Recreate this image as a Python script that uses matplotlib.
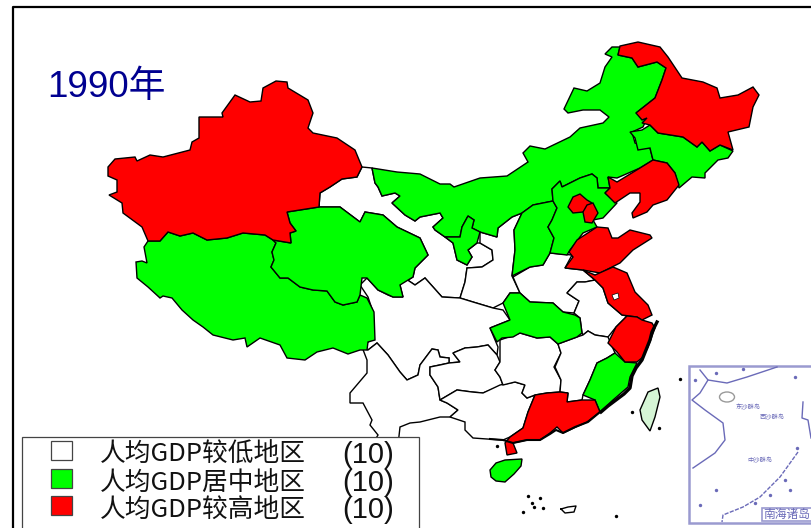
import matplotlib
matplotlib.use('Agg')
import matplotlib.pyplot as plt
from matplotlib.patches import Polygon, Rectangle, Ellipse

plt.rcParams['font.family'] = ['Liberation Sans', 'Noto Sans CJK SC']

# province outlines in pixel units
xinjiang = [(108,167),(115,159),(135,157),(137,161),(150,155),(163,157),(190,150),(192,142),(199,138),(199,117),(223,117),(222,113),(235,95),(250,102),(261,101),(263,88),(276,81),(287,82),(288,88),(308,100),(313,113),(308,128),(313,133),(337,138),(355,150),(362,167),(357,177),(342,179),(330,187),(320,193),(319,207),(287,212),(290,223),(296,231),(290,233),(291,243),(273,240),(265,235),(243,233),(227,238),(207,240),(193,233),(180,236),(168,232),(160,241),(148,241),(142,227),(123,213),(122,203),(109,195),(117,192),(117,180),(108,176)]
tibet = [(148,241),(160,241),(168,232),(180,236),(193,233),(207,240),(227,238),(243,233),(265,235),(273,240),(276,243),(272,252),(274,260),(271,267),(280,278),(288,278),(300,287),(313,290),(327,291),(335,302),(343,305),(357,302),(360,295),(367,298),(374,312),(375,340),(368,342),(367,350),(360,350),(348,354),(333,348),(317,352),(305,360),(287,358),(280,345),(260,338),(247,347),(245,338),(233,340),(213,335),(203,327),(193,320),(182,310),(172,298),(163,296),(160,298),(148,287),(137,278),(136,262),(142,261),(147,263),(144,247)]
qinghai = [(287,212),(319,207),(340,207),(360,222),(365,212),(383,215),(397,227),(420,238),(428,255),(415,268),(413,277),(400,285),(403,297),(393,297),(378,290),(367,278),(362,278),(360,295),(357,302),(343,305),(335,302),(327,291),(313,290),(300,287),(288,278),(280,278),(271,267),(274,260),(272,252),(276,243),(273,240),(291,243),(290,233),(296,231),(290,223)]
gansu = [(362,167),(372,168),(375,183),(378,187),(382,196),(395,193),(400,196),(392,203),(405,215),(415,221),(420,217),(440,213),(443,218),(433,227),(435,230),(445,237),(453,243),(457,260),(467,265),(472,257),(468,250),(477,243),(480,243),(492,250),(493,260),(482,267),(467,268),(465,282),(460,298),(442,297),(425,278),(415,285),(403,277),(395,283),(400,285),(413,277),(415,268),(428,255),(420,238),(397,227),(383,215),(365,212),(360,222),(340,207),(319,207),(320,193),(330,187),(342,179),(357,177)]
inner_mongolia = [(372,168),(397,172),(420,174),(440,184),(450,184),(454,187),(480,178),(507,176),(528,162),(523,153),(530,146),(545,149),(570,137),(580,128),(603,123),(609,117),(600,110),(583,110),(568,113),(564,109),(574,88),(587,91),(600,83),(605,67),(612,57),(605,54),(612,47),(620,47),(618,55),(632,58),(638,67),(657,62),(666,68),(662,80),(655,98),(636,113),(647,118),(643,127),(632,132),(635,143),(650,148),(653,160),(640,168),(617,178),(608,177),(610,188),(598,188),(597,178),(592,174),(580,178),(562,187),(560,181),(552,189),(553,201),(533,205),(522,213),(512,217),(498,228),(497,237),(480,232),(472,228),(474,220),(468,216),(462,227),(460,237),(445,237),(435,230),(433,227),(443,218),(440,213),(420,217),(415,221),(405,215),(392,203),(400,196),(395,193),(382,196),(378,187),(375,183)]
ningxia = [(445,237),(460,237),(462,227),(468,216),(474,220),(472,228),(480,232),(477,243),(468,250),(472,257),(467,265),(457,260),(453,243)]
shanxi = [(533,205),(553,201),(557,208),(552,220),(548,227),(554,238),(550,253),(543,265),(530,267),(512,276),(515,250),(514,230),(522,213)]
hebei = [(553,201),(552,189),(560,181),(562,187),(580,178),(592,174),(597,178),(598,188),(610,188),(605,193),(617,203),(603,218),(593,220),(597,227),(583,233),(570,250),(567,255),(550,253),(554,238),(548,227),(552,220),(557,208)]
beijing = [(568,207),(573,197),(580,194),(587,200),(592,203),(583,212),(573,213)]
tianjin = [(587,205),(593,203),(598,213),(592,223),(585,222),(583,212)]
shandong = [(569,252),(577,240),(597,227),(608,228),(612,238),(618,238),(630,230),(650,235),(652,238),(633,250),(620,263),(610,268),(600,273),(583,270),(565,268),(573,257)]
liaoning = [(653,160),(667,163),(675,173),(679,185),(667,200),(653,205),(647,212),(633,218),(632,213),(640,202),(640,193),(630,193),(615,203),(605,193),(610,188),(608,177),(617,182),(640,168)]
jilin = [(630,132),(642,130),(650,125),(658,133),(683,137),(697,147),(702,142),(710,151),(720,145),(733,151),(728,158),(718,160),(705,173),(705,178),(692,177),(679,188),(675,173),(667,163),(653,160),(650,148),(638,150),(635,138)]
heilongjiang = [(620,46),(638,42),(660,47),(668,57),(682,78),(703,82),(717,88),(720,98),(738,95),(753,87),(759,95),(753,107),(749,127),(728,132),(733,150),(720,145),(710,151),(702,142),(697,147),(683,137),(658,133),(650,125),(642,123),(647,118),(642,120),(636,113),(655,98),(662,80),(666,68),(657,62),(638,67),(632,58),(618,55)]
jiangsu = [(583,270),(595,275),(613,267),(627,273),(635,292),(648,305),(652,315),(642,320),(637,317),(622,315),(608,303),(603,288),(595,280)]
zhejiang = [(627,316),(637,317),(642,320),(652,323),(655,328),(648,347),(643,357),(637,362),(625,362),(617,352),(608,343),(616,327)]
fujian = [(615,353),(625,362),(637,363),(630,377),(628,387),(613,400),(600,412),(595,400),(583,395),(590,380),(597,363),(607,358)]
jiangxi = [(558,344),(577,337),(583,335),(588,331),(595,335),(608,337),(615,353),(607,358),(597,363),(590,380),(583,395),(582,400),(567,402),(568,393),(560,392),(561,380),(555,367),(561,353)]
hubei = [(503,303),(510,293),(520,293),(530,302),(553,303),(563,312),(575,315),(580,318),(582,333),(577,337),(558,344),(550,337),(537,338),(520,333),(513,337),(502,338),(497,342),(490,328),(510,320)]
hunan = [(500,340),(520,333),(537,338),(550,337),(558,344),(561,353),(554,367),(561,380),(560,392),(547,393),(535,395),(527,398),(522,393),(525,385),(515,382),(503,385),(500,377),(495,370),(500,362)]
guangdong = [(535,395),(547,393),(560,392),(568,393),(567,402),(582,400),(595,400),(600,412),(587,422),(563,433),(557,427),(550,433),(540,440),(527,440),(513,443),(517,453),(507,455),(505,443),(510,437),(523,428),(528,412)]
guangxi = [(440,400),(457,390),(472,392),(483,393),(500,385),(515,382),(525,385),(522,393),(527,398),(535,395),(528,412),(523,428),(510,437),(503,440),(487,439),(473,438),(465,430),(465,422),(450,417),(458,410),(447,403)]
guizhou = [(430,367),(440,365),(449,363),(460,362),(453,353),(465,348),(477,347),(488,345),(497,355),(500,362),(495,370),(500,377),(503,385),(483,393),(472,392),(457,390),(440,400),(438,387),(430,375)]
sichuan = [(360,285),(367,278),(378,290),(388,295),(393,297),(403,297),(400,285),(395,283),(403,277),(415,285),(425,278),(442,297),(460,298),(473,302),(493,308),(503,310),(510,320),(490,328),(498,347),(497,355),(488,345),(477,347),(465,348),(453,353),(460,362),(449,363),(449,358),(440,357),(438,350),(432,349),(420,365),(418,375),(407,380),(400,372),(388,355),(377,343),(368,350),(362,347),(373,338),(373,312),(368,297)]
yunnan = [(362,347),(368,350),(377,343),(388,355),(400,372),(407,380),(418,375),(420,365),(432,349),(438,350),(440,357),(449,358),(449,363),(430,367),(430,375),(438,387),(440,400),(447,403),(458,410),(450,417),(440,417),(420,422),(410,423),(400,427),(398,445),(372,445),(378,435),(370,425),(372,420),(363,403),(350,403),(350,393),(367,373),(367,360)]
shaanxi = [(480,232),(497,237),(498,228),(512,217),(522,213),(514,230),(515,250),(512,276),(520,293),(510,293),(503,303),(493,308),(473,302),(460,298),(465,282),(467,268),(482,267),(493,260),(492,250),(480,243)]
henan = [(513,277),(530,267),(543,265),(550,253),(572,255),(565,268),(583,270),(595,280),(585,282),(577,282),(567,293),(579,301),(574,313),(563,312),(553,303),(530,302),(520,293)]
anhui = [(577,282),(585,282),(595,280),(603,288),(608,303),(622,315),(627,316),(616,327),(608,337),(595,335),(588,331),(583,335),(582,333),(580,318),(574,313),(579,301),(567,293)]
hainan = [(490,470),(496,463),(505,460),(522,459),(521,466),(514,474),(505,482),(496,481),(491,477)]
taiwan = [(658,388),(648,392),(640,410),(642,420),(650,431),(655,417),(660,397)]
hongze_lake = [(612,295),(618,293),(619,298),(614,300)]

low_regions = [gansu, shaanxi, sichuan, yunnan, guizhou, guangxi, hunan, henan, anhui, jiangxi]
mid_regions = [tibet, qinghai, inner_mongolia, ningxia, shanxi, hebei, jilin, hubei, fujian, hainan]
high_regions = [xinjiang, beijing, tianjin, shandong, liaoning, heilongjiang, jiangsu, zhejiang, guangdong]

# rough black coast, small islands
coast_x = [657,652,650,646,642,636,632,630,624,616,608,601]
coast_y = [322,332,340,350,360,368,376,388,394,400,406,412]
south_coast_x = [600,588,575,563,556,550,540,527,513,503,490]
south_coast_y = [412,422,427,433,430,434,440,440,443,440,439]
island_x = [528,540,532,534,543,523,616,632,659,680,497]
island_y = [496,498,503,507,508,512,516,412,428,379,446]
ring_x = [561,568,576,574,565,561]
ring_y = [509,507,506,512,513,509]

legend_labels = ['人均GDP较低地区', '人均GDP居中地区', '人均GDP较高地区']
legend_counts = ['(10)', '(10)', '(10)']
legend_colors = ['white', '#00ff00', '#ff0000']

# inset sea map
inset_coast_x = [700,708,700,692,705,723,725,715,693]
inset_coast_y = [370,380,393,400,410,423,440,453,468]
inset_north_x = [708,727,747,777]
inset_north_y = [380,383,377,367]
inset_trough_x = [798,780,760,743,723,722]
inset_trough_y = [452,477,497,507,515,522]
inset_east_x = [803,802,808,811]
inset_east_y = [402,418,420,438]
inset_names = ['东沙群岛', '西沙群岛', '中沙群岛']
inset_name_x = [748,772,760]
inset_name_y = [407,417,460]
inset_dot_x = [695,716,743,795,797,785,770,755,790,716,700]
inset_dot_y = [380,373,369,377,448,480,495,503,490,490,505]

fig = plt.figure(figsize=(8.11,5.28), dpi=100)
ax = fig.add_axes([0,0,1,1])
ax.set_xlim(0,811)
ax.set_ylim(528,0)
ax.axis('off')

for group, colour in zip([low_regions, mid_regions, high_regions], legend_colors):
	for region in group:
		ax.add_patch(Polygon(region, closed=True, fc=colour, ec='black', lw=1.0, zorder=2))
ax.add_patch(Polygon(hongze_lake, closed=True, fc='white', ec='black', lw=0.5, zorder=3))
ax.add_patch(Polygon(taiwan, closed=True, fc='#d5f5d5', ec='black', lw=1.0, zorder=2))
ax.plot(coast_x, coast_y, color='black', lw=2.4, zorder=3)
ax.plot(south_coast_x, south_coast_y, color='black', lw=1.5, zorder=3)
ax.scatter(island_x, island_y, s=6, color='black', lw=0, zorder=3)
ax.plot(ring_x, ring_y, color='black', lw=1.0, zorder=3)

# frame
ax.plot([13,13,811], [528,7,7], color='black', lw=1.6, zorder=6)

ax.text(47, 88, '1990年', fontsize=26.5, color='#000090', va='center', ha='left', zorder=6)

# inset
ink = '#6a6ab8'
ax.add_patch(Rectangle((689,366), 125, 157, fc='white', ec='#9a9ad0', lw=1.8, zorder=4))
ax.add_patch(Rectangle((762,508), 52, 13, fc='white', ec='#9a9ad0', lw=1.2, zorder=5))
ax.plot(inset_coast_x, inset_coast_y, color=ink, lw=1.0, zorder=5)
ax.plot(inset_north_x, inset_north_y, color=ink, lw=1.0, zorder=5)
ax.plot(inset_trough_x, inset_trough_y, color=ink, lw=1.0, ls=(0,(3,1)), zorder=5)
ax.plot(inset_east_x, inset_east_y, color=ink, lw=1.0, zorder=5)
ax.scatter(inset_dot_x, inset_dot_y, s=6, color=ink, lw=0, zorder=5)
ax.add_patch(Ellipse((727,397), 15, 10, fc='white', ec='#9a9a9a', lw=1.0, zorder=5))
for name, nx, ny in zip(inset_names, inset_name_x, inset_name_y):
	ax.text(nx, ny, name, fontsize=4.5, color=ink, ha='center', va='center', zorder=5)
ax.text(787, 515, '南海诸岛', fontsize=8.5, color=ink, ha='center', va='center', zorder=6)

# legend
ax.add_patch(Rectangle((22,437), 397, 100, fc='white', ec='#444444', lw=0.9, zorder=7))
for i in range(3):
	y = 450 + 27.7*i
	ax.add_patch(Rectangle((51,y-9), 21, 19, fc=legend_colors[i], ec='#444444', lw=0.9, zorder=8))
	ax.text(100, y+5, legend_labels[i], fontsize=18.5, family=['Noto Sans CJK SC'], color='#111111', va='center', ha='left', zorder=8)
	ax.text(342, y+5, legend_counts[i], fontsize=21, color='#111111', va='center', ha='left', zorder=8)

plt.savefig('out.png', dpi=100)
